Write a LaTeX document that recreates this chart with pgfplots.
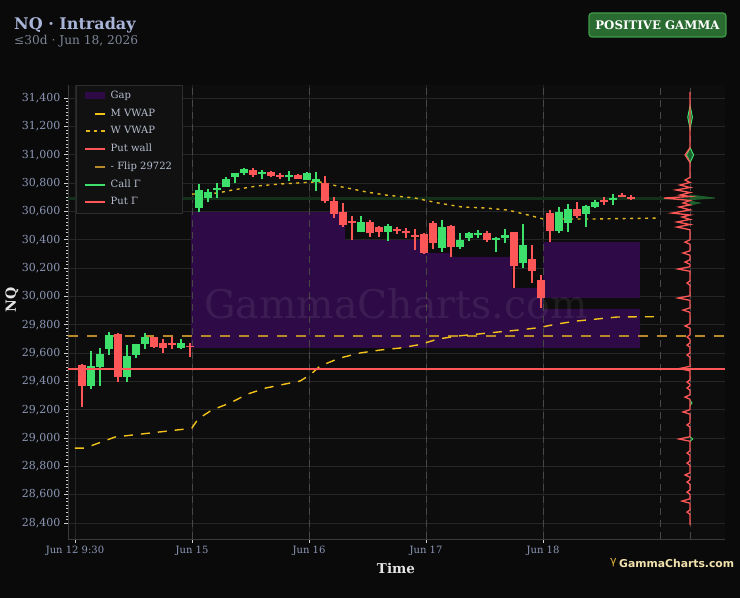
\documentclass[border=0pt]{standalone}
\usepackage{fontspec}
\setmainfont{DejaVu Serif}
\newfontfamily\logofont{DejaVu Sans}
\usepackage{pgfplots}
\usepackage{pgfplotstable}
\pgfplotsset{compat=1.18}
\definecolor{bg}{HTML}{0A0A0A}
\definecolor{plotbg}{HTML}{0D0D0D}
\definecolor{gridc}{HTML}{262626}
\definecolor{sessc}{HTML}{474747}
\definecolor{axisc}{HTML}{3A3A3A}
\definecolor{tickc}{HTML}{CFCFCF}
\definecolor{ticklab}{HTML}{8D98B6}
\definecolor{titlec}{HTML}{A9B5D8}
\definecolor{subc}{HTML}{7D8596}
\definecolor{candG}{HTML}{3EE06C}
\definecolor{candR}{HTML}{FF5757}
\definecolor{gapc}{HTML}{2E0B46}
\definecolor{mvwap}{HTML}{F2C21B}
\definecolor{wvwap}{HTML}{E3B71E}
\definecolor{flipc}{HTML}{B88A2A}
\definecolor{bandc}{HTML}{14301A}
\definecolor{callfill}{HTML}{1E5E2C}
\definecolor{legbg}{HTML}{111111}
\definecolor{legborder}{HTML}{2E2E2E}
\definecolor{legtext}{HTML}{B7BFD0}
\definecolor{badgefill}{HTML}{2A6B31}
\definecolor{badgeborder}{HTML}{3E9C48}
\definecolor{logotext}{HTML}{F2E2AE}
\definecolor{logogold}{HTML}{E2B43A}

\pgfplotstableread{
x o h l c
1 29366 29614 29344 29508
2 29501 29635 29366 29593
3 29628 29748 29586 29727
5 29430 29656 29395 29579
6 29586 29663 29565 29663
7 29663 29741 29628 29713
11 29635 29698 29628 29670
13 30623 30793 30595 30750
14 30694 30757 30666 30736
15 30757 30800 30694 30764
16 30772 30842 30772 30828
17 30842 30870 30800 30870
18 30870 30906 30856 30899
20 30863 30892 30828 30877
23 30842 30885 30814 30856
25 30821 30877 30821 30870
26 30807 30877 30743 30828
31 30454 30567 30454 30525
34 30454 30511 30390 30496
40 30341 30539 30313 30489
42 30348 30447 30334 30397
43 30412 30454 30390 30447
44 30440 30468 30412 30447
46 30404 30418 30313 30412
47 30412 30475 30376 30433
49 30235 30511 30200 30362
53 30461 30630 30447 30595
54 30518 30652 30454 30616
56 30581 30645 30489 30638
57 30630 30680 30623 30666
59 30687 30722 30645 30694
}\greencandles

\pgfplotstableread{
x o h l c
0 29514 29520 29218 29366
4 29734 29741 29395 29430
8 29713 29713 29635 29642
9 29670 29698 29600 29635
10 29670 29713 29628 29660
12 29650 29670 29572 29642
19 30892 30906 30842 30856
21 30877 30885 30842 30849
22 30856 30870 30828 30842
24 30856 30863 30828 30830
27 30800 30849 30659 30673
28 30673 30701 30553 30581
29 30595 30659 30489 30503
30 30532 30567 30397 30518
32 30525 30539 30418 30447
33 30489 30496 30418 30454
35 30475 30489 30440 30468
36 30461 30482 30411 30447
37 30433 30475 30327 30425
38 30440 30447 30299 30306
39 30518 30532 30334 30376
41 30496 30503 30277 30348
45 30447 30461 30383 30397
48 30454 30454 30059 30214
50 30263 30362 30094 30179
51 30115 30150 29917 29988
52 30588 30609 30383 30461
55 30616 30666 30553 30567
58 30680 30701 30645 30673
60 30715 30730 30701 30708
61 30701 30715 30680 30694
}\redcandles

\begin{document}
\begin{tikzpicture}
\fill[bg] (0,0) rectangle (740bp,598bp);
\begin{axis}[
  at={(68bp,59bp)}, anchor=south west,
  width=657bp, height=454bp, scale only axis,
  xmin=-1.556, xmax=71.44, ymin=28287, ymax=31492,
  axis background/.style={fill=plotbg},
  axis x line*=bottom, axis y line*=left,
  axis line style={draw=axisc, line width=0.8bp},
  xtick={-0.78,12.22,25.22,38.22,51.22},
  xticklabels={Jun 12 9:30,Jun 15,Jun 16,Jun 17,Jun 18},
  ytick={28400,28600,...,31400},
  minor y tick num=7,
  scaled y ticks=false,
  xticklabel style={font=\fontsize{10bp}{12bp}\selectfont, text=ticklab},
  yticklabel style={font=\fontsize{11bp}{13bp}\selectfont, text=ticklab,
    /pgf/number format/.cd, fixed, 1000 sep={,}, assume math mode=true},
  tick style={draw=tickc, line width=0.7bp},
  major tick length=4bp, minor tick length=2bp,
  tick align=outside,
  grid=major, major grid style={draw=gridc, line width=0.8bp},
  unbounded coords=jump,
]
% gap boxes
\addplot[fill=gapc, draw=none] coordinates {
 (12.11,29637) (12.11,30595) (29.22,30595) (29.22,30398) (38.33,30398) (38.33,30306)
 (41.11,30306) (41.11,30278) (47.78,30278) (47.78,30059) (51.22,30059) (51.22,29911)
 (62,29911) (62,29637)} -- cycle;
\addplot[fill=gapc, draw=none] coordinates {
 (51.22,29988) (51.22,30383) (62,30383) (62,29988)} -- cycle;

% session separators and profile baseline
\addplot[sessc, line width=0.8bp, dash pattern=on 7bp off 5bp] coordinates {
 (12.22,28287) (12.22,31492) (nan,nan)
 (25.22,28287) (25.22,31492) (nan,nan)
 (38.22,28287) (38.22,31492) (nan,nan)
 (51.22,28287) (51.22,31492) (nan,nan)
 (64.22,28287) (64.22,31492) (nan,nan)
 (67.56,28287) (67.56,31492)};

% call gamma band
\addplot[bandc, line width=3bp] coordinates {(-1.556,30694) (67.56,30694)};

% flip line
\addplot[flipc, line width=1.4bp, dash pattern=on 10bp off 9bp] coordinates {(-1.556,29720) (71.44,29720)};

% M VWAP
\addplot[mvwap, line width=1.4bp, dash pattern=on 9bp off 8bp] coordinates {
 (-0.78,28929) (0.33,28929) (1.44,28955) (3.67,29007) (7.56,29035) (11.44,29063) (12.22,29071)
 (12.89,29134) (14.44,29198) (16.44,29247) (18.44,29311) (20.44,29353) (22.56,29381)
 (24.22,29402) (25.33,29445) (26.44,29508) (28.67,29565) (30.89,29600) (33.11,29621)
 (35.33,29635) (37.56,29660) (39.56,29699) (41.78,29720) (44,29734) (46.22,29748)
 (48.44,29762) (50.67,29778) (52.78,29805) (55,29826) (57.22,29840) (59.44,29854)
 (62,29856) (64.22,29856)};

% W VWAP
\addplot[wvwap, line width=1.4bp, dash pattern=on 3bp off 4.5bp] coordinates {
 (12.22,30722) (15,30729) (16.78,30751) (19.44,30779) (22,30793) (23.89,30800) (25.67,30807)
 (26.44,30807) (28.33,30779) (30,30758) (31.67,30736) (33.78,30715) (37,30694) (39.56,30659)
 (42.22,30631) (44.78,30624) (47.33,30609) (50,30567) (51.22,30546) (53.33,30546)
 (57,30546) (64.22,30553)};

% candles: wicks
\addplot[draw=none, mark=none,
  error bars/.cd, y dir=both, y explicit, error mark=none,
  error bar style={candG, line width=1.1bp}]
  table[x=x, y expr={(\thisrow{h}+\thisrow{l})/2}, y error expr={(\thisrow{h}-\thisrow{l})/2}] {\greencandles};
\addplot[draw=none, mark=none,
  error bars/.cd, y dir=both, y explicit, error mark=none,
  error bar style={candR, line width=1.1bp}]
  table[x=x, y expr={(\thisrow{h}+\thisrow{l})/2}, y error expr={(\thisrow{h}-\thisrow{l})/2}] {\redcandles};
% candles: bodies
\addplot[draw=none, mark=none,
  error bars/.cd, y dir=both, y explicit, error mark=none,
  error bar style={candG, line width=7.5bp}]
  table[x=x, y expr={(\thisrow{o}+\thisrow{c})/2}, y error expr={max(abs(\thisrow{c}-\thisrow{o})/2,5)}] {\greencandles};
\addplot[draw=none, mark=none,
  error bars/.cd, y dir=both, y explicit, error mark=none,
  error bar style={candR, line width=7.5bp}]
  table[x=x, y expr={(\thisrow{o}+\thisrow{c})/2}, y error expr={max(abs(\thisrow{c}-\thisrow{o})/2,5)}] {\redcandles};

% put wall
\addplot[candR, line width=2bp] coordinates {(-1.556,29490) (71.44,29490)};

% call gamma profile
\addplot[fill=callfill, draw=candG, line width=1bp] coordinates {
 (67.56,31345) (67.82,31265) (67.56,31185) (67.30,31265)} -- cycle;
\addplot[fill=callfill, draw=candG, line width=1bp] coordinates {
 (67.56,31050) (67.95,30998) (67.56,30945) (67.17,30998)} -- cycle;
\addplot[fill=callfill, draw=callfill, line width=0.8bp] coordinates {
 (67.56,30716) (70.33,30694) (67.56,30682)} -- cycle;
\addplot[fill=callfill, draw=callfill, line width=0.8bp] coordinates {
 (67.56,30674) (68.67,30659) (67.56,30645)} -- cycle;
\addplot[candG, line width=0.9bp] coordinates {
 (67.56,29265) (67.78,29247) (67.56,29230) (nan,nan)
 (67.56,29010) (67.85,28993) (67.56,28976)};

% put gamma profile
\addplot[candR, line width=1.3bp] coordinates {
 (67.56,31442) (67.56,31050) (67.0,30998) (67.56,30945)
 (67.56,30840) (67.0,30821) (67.56,30804) (66.45,30786) (67.56,30768) (66.0,30751)
 (67.56,30733) (66.45,30715) (67.56,30705) (64.67,30694) (67.56,30677) (66.78,30659)
 (67.56,30645) (66.33,30631) (67.56,30610) (65.56,30588) (67.56,30574) (66.67,30560)
 (67.56,30543) (66.11,30525) (67.56,30507) (66.11,30489) (67.56,30470)
 (67.56,30399) (67.0,30383) (67.56,30367)
 (67.56,30322) (66.78,30306) (67.56,30290)
 (67.56,30258) (67.0,30242) (67.56,30226)
 (67.56,30209) (66.22,30193) (67.56,30177)
 (67.56,30110) (67.22,30094) (67.56,30078)
 (67.56,30004) (66.22,29988) (67.56,29972)
 (67.56,29919) (66.78,29903) (67.56,29887)
 (67.56,29807) (67.0,29791) (67.56,29775)
 (67.56,29729) (67.22,29713) (67.56,29697)
 (67.56,29672) (67.22,29656) (67.56,29640)
 (67.56,29602) (67.22,29586) (67.56,29570)
 (67.56,29506) (66.33,29490) (67.56,29474)
 (67.56,29411) (67.22,29395) (67.56,29379)
 (67.56,29369) (67.22,29353) (67.56,29337)
 (67.56,29305) (67.0,29289) (67.56,29273)
 (67.56,29200) (66.78,29184) (67.56,29168)
 (67.56,29108) (67.22,29092) (67.56,29076)
 (67.56,29009) (66.33,28993) (67.56,28977)
 (67.56,28910) (67.22,28894) (67.56,28878)
 (67.56,28839) (67.22,28823) (67.56,28807)
 (67.56,28755) (67.0,28739) (67.56,28723)
 (67.56,28705) (67.22,28689) (67.56,28673)
 (67.56,28634) (67.22,28618) (67.56,28602)
 (67.56,28571) (66.67,28555) (67.56,28539)
 (67.56,28493) (67.22,28477) (67.56,28461)
 (67.56,28386)};
\end{axis}

% watermark
\node[font=\fontsize{39.5bp}{42bp}\selectfont, text=white, text opacity=0.07] at (396bp,294bp) {GammaCharts.com};

% legend (drawn by hand)
\draw[fill=legbg, draw=legborder, line width=0.8bp] (76bp,385bp) rectangle (182bp,513bp);
\fill[gapc] (85bp,498.5bp) rectangle (105bp,505.5bp);
\draw[mvwap, line width=2bp] (95bp,484bp) -- (105bp,484bp);
\draw[wvwap, line width=2bp, dash pattern=on 3.5bp off 4bp] (86bp,467bp) -- (106bp,467bp);
\draw[candR, line width=2bp] (85bp,449bp) -- (105bp,449bp);
\draw[flipc, line width=2bp] (95bp,431bp) -- (105bp,431bp);
\draw[candG, line width=2bp] (85bp,413bp) -- (105bp,413bp);
\draw[candR, line width=2bp] (85bp,396bp) -- (105bp,396bp);
\begin{scope}[every node/.style={anchor=mid west, inner sep=0, text=legtext, font=\fontsize{10bp}{12bp}\selectfont}]
\node at (110.5bp,502bp) {Gap};
\node at (110.5bp,484bp) {M VWAP};
\node at (110.5bp,467bp) {W VWAP};
\node at (110.5bp,449bp) {Put wall};
\node at (110.5bp,431bp) {- Flip 29722};
\node at (110.5bp,413bp) {Call Γ};
\node at (110.5bp,396bp) {Put Γ};
\end{scope}

% titles
\node[anchor=base west, inner sep=0, font=\bfseries\fontsize{16bp}{18bp}\selectfont, text=titlec] at (14bp,568bp) {NQ · Intraday};
\node[anchor=base west, inner sep=0, font=\fontsize{12.2bp}{14bp}\selectfont, text=subc] at (14bp,553bp) {≤30d · Jun 18, 2026};
\draw[fill=badgefill, draw=badgeborder, line width=1.2bp, rounded corners=3bp] (589bp,561bp) rectangle (726bp,585bp);
\node[font=\bfseries\fontsize{11.8bp}{13bp}\selectfont, text=white] at (657.5bp,573bp) {POSITIVE GAMMA};

% axis labels
\node[font=\bfseries\fontsize{13.5bp}{15bp}\selectfont, text=white!90!black] at (396bp,30bp) {Time};
\node[rotate=90, font=\bfseries\fontsize{14bp}{16bp}\selectfont, text=white!90!black] at (12bp,298bp) {NQ};

% logo
\node[anchor=west, inner sep=0, font=\logofont\fontsize{11bp}{12bp}\selectfont, text=logogold] at (610bp,35bp) {γ};
\node[anchor=west, inner sep=0, font=\logofont\bfseries\fontsize{10.8bp}{12bp}\selectfont, text=logotext] at (619bp,35bp) {GammaCharts.com};

\pgfresetboundingbox
\path[use as bounding box] (0,0) rectangle (740bp,598bp);
\end{tikzpicture}
\end{document}
